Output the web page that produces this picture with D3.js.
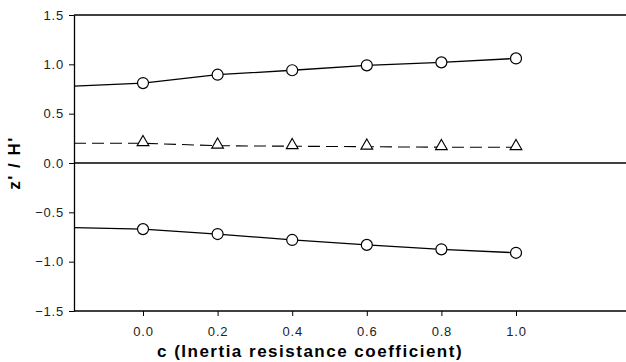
<!DOCTYPE html>
<html>
<head>
<meta charset="utf-8">
<script src="https://cdn.jsdelivr.net/npm/d3@7"></script>
<style>
    body { margin: 0; background: #fff; }
    svg text { font-family: "Liberation Sans", Arial, sans-serif; }
</style>
</head>
<body>
<svg id="chart"></svg>
<script>
// c values where markers sit, and the lines (which also run back to the left frame edge)
const cMarkers = [0.0, 0.2, 0.4, 0.6, 0.8, 1.0];
const cLine = [-0.185, 0.0, 0.2, 0.4, 0.6, 0.8, 1.0];

const upperZ = [0.78, 0.81, 0.895, 0.94, 0.99, 1.02, 1.06];
const middleZ = [0.20, 0.20, 0.175, 0.17, 0.165, 0.16, 0.16];
const lowerZ = [-0.655, -0.67, -0.72, -0.78, -0.83, -0.875, -0.91];

const xTicks = [0.0, 0.2, 0.4, 0.6, 0.8, 1.0];
const yTicks = [1.5, 1.0, 0.5, 0.0, -0.5, -1.0, -1.5];

function main() {
    const width = 626;
    const height = 362;
    const left = 74, right = 626, top = 15, bottom = 311;

    const svg = d3.select("#chart").attr("width", width).attr("height", height);

    const x = d3.scaleLinear().domain([0, 1]).range([143, 516]);
    const y = d3.scaleLinear().domain([-1.5, 1.5]).range([bottom, top]);
    const xMin = x.invert(left), xMax = x.invert(right);

    // horizontal frame lines at 1.5, 0 and -1.5
    svg.append("g").selectAll("line")
        .data([1.5, 0, -1.5])
        .join("line")
        .attr("x1", x(xMin)).attr("x2", x(xMax))
        .attr("y1", d => y(d)).attr("y2", d => y(d))
        .attr("stroke", "#000").attr("stroke-width", 1.3);

    const yAxis = d3.axisLeft(y).tickValues(yTicks).tickFormat(d3.format(".1f"))
        .tickSize(5).tickSizeOuter(0).tickPadding(5);
    const gy = svg.append("g").attr("transform", "translate(" + left + ",0)").call(yAxis);
    gy.select(".domain").attr("stroke-width", 1.3);
    gy.selectAll("text").attr("font-size", 13).attr("fill", "#222")
        .attr("letter-spacing", 0.8);

    const xAxis = d3.axisBottom(x).tickValues(xTicks).tickFormat(d3.format(".1f"))
        .tickSize(5).tickSizeOuter(0).tickPadding(11);
    const gx = svg.append("g").attr("transform", "translate(0," + bottom + ")").call(xAxis);
    gx.select(".domain").remove();
    gx.selectAll("text").attr("font-size", 13).attr("fill", "#222")
        .attr("letter-spacing", 0.8);

    const line = d3.line().x((d, i) => x(cLine[i])).y(d => y(d));

    [upperZ, lowerZ].forEach(series => {
        svg.append("path").datum(series)
            .attr("d", line).attr("fill", "none")
            .attr("stroke", "#000").attr("stroke-width", 1.3);
    });
    svg.append("path").datum(middleZ)
        .attr("d", line).attr("fill", "none")
        .attr("stroke", "#000").attr("stroke-width", 1.1)
        .attr("stroke-dasharray", "12,6");

    [upperZ, lowerZ].forEach(series => {
        svg.append("g").selectAll("circle")
            .data(cMarkers)
            .join("circle")
            .attr("cx", d => x(d))
            .attr("cy", (d, i) => y(series[i + 1]))
            .attr("r", 5.5)
            .attr("fill", "#fff").attr("stroke", "#000").attr("stroke-width", 1.2);
    });

    const tri = d3.symbol().type(d3.symbolTriangle).size(60);
    svg.append("g").selectAll("path")
        .data(cMarkers)
        .join("path")
        .attr("d", tri)
        .attr("transform", (d, i) => "translate(" + x(d) + "," + (y(middleZ[i + 1]) - 1) + ")")
        .attr("fill", "#fff").attr("stroke", "#000").attr("stroke-width", 1.1);

    svg.append("text")
        .attr("x", 310).attr("y", 357)
        .attr("text-anchor", "middle")
        .attr("font-size", 17).attr("font-weight", "bold")
        .attr("letter-spacing", 1.5)
        .text("c (Inertia resistance coefficient)");

    svg.append("text")
        .attr("transform", "translate(20," + y(0) + ") rotate(-90)")
        .attr("text-anchor", "middle")
        .attr("font-size", 17).attr("font-weight", "bold")
        .attr("letter-spacing", 1.5)
        .text("z' / H'");
}

main();
</script>
</body>
</html>
